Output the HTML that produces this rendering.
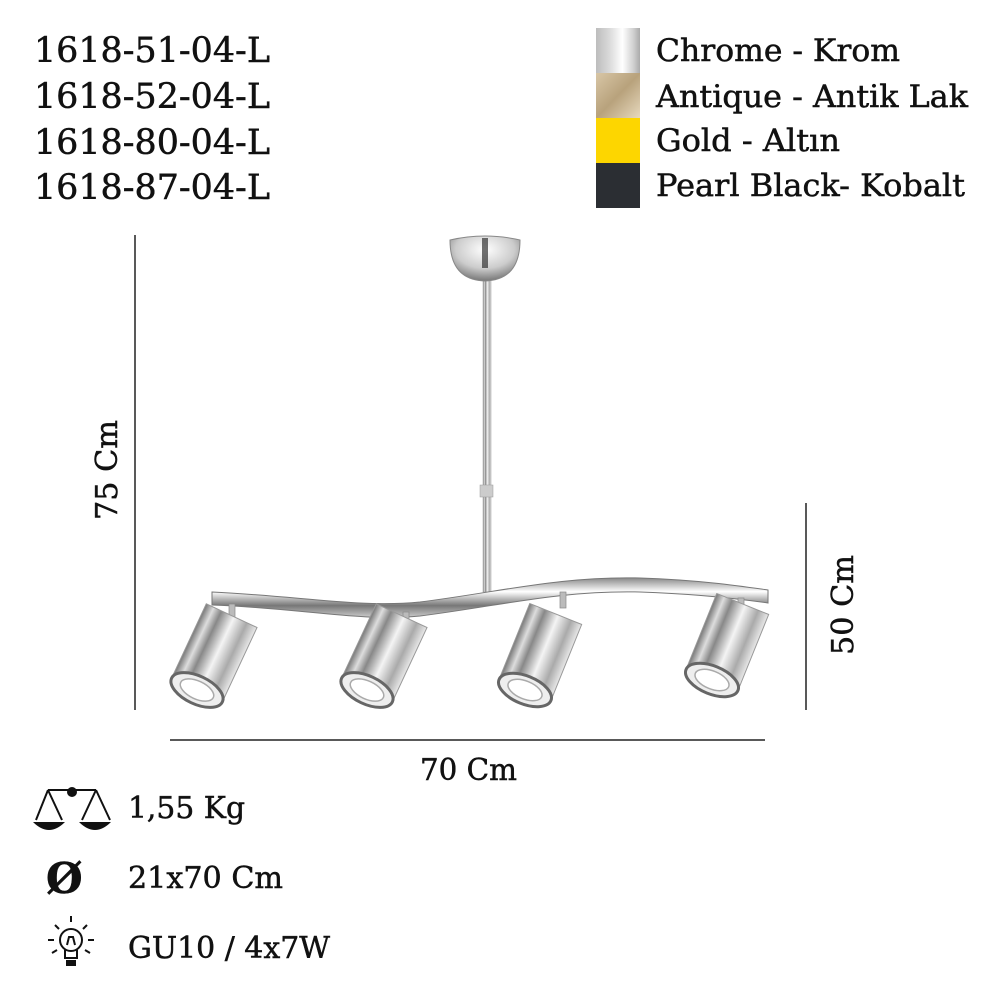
<!DOCTYPE html>
<html><head><meta charset="utf-8"><style>html,body{margin:0;padding:0;background:#fff}svg{display:block}text{font-family:"DejaVu Serif","Liberation Serif",serif;fill:#111;stroke:#111;stroke-width:0.5}</style></head>
<body>
<svg width="1000" height="1000" viewBox="0 0 1000 1000" xmlns="http://www.w3.org/2000/svg">
<defs>
<linearGradient id="chr" x1="0" x2="1" y1="0" y2="0">
<stop offset="0" stop-color="#bdbdbd"/><stop offset=".3" stop-color="#d9d9d9"/><stop offset=".6" stop-color="#ffffff"/><stop offset=".85" stop-color="#d0d0d0"/><stop offset="1" stop-color="#aaa"/></linearGradient>
<linearGradient id="ant" x1="0" x2="1" y1="0" y2="1">
<stop offset="0" stop-color="#d8c6a6"/><stop offset=".5" stop-color="#b8a27c"/><stop offset="1" stop-color="#e7d9be"/></linearGradient>
<linearGradient id="cyl" x1="0" x2="1" y1="0" y2="0">
<stop offset="0" stop-color="#777"/><stop offset=".15" stop-color="#ddd"/><stop offset=".3" stop-color="#888"/><stop offset=".55" stop-color="#f4f4f4"/><stop offset=".8" stop-color="#aaa"/><stop offset="1" stop-color="#e8e8e8"/></linearGradient>
<linearGradient id="bar" x1="0" x2="0" y1="0" y2="1">
<stop offset="0" stop-color="#888"/><stop offset=".35" stop-color="#fff"/><stop offset=".7" stop-color="#777"/><stop offset="1" stop-color="#ccc"/></linearGradient>
<radialGradient id="dome" cx=".5" cy=".3" r=".7"><stop offset="0" stop-color="#fff"/><stop offset=".6" stop-color="#ccc"/><stop offset="1" stop-color="#777"/></radialGradient>
<g id="spot">
<rect x="-28" y="-82" width="56" height="82" fill="url(#cyl)" stroke="#999" stroke-width="1"/>
<ellipse cx="0" cy="0" rx="28" ry="14" fill="#eee" stroke="#666" stroke-width="3"/>
<ellipse cx="0" cy="0" rx="18" ry="9" fill="#fff" stroke="#aaa" stroke-width="1.5"/>
</g>
</defs>

<g font-size="35">
<text x="34" y="62" textLength="236" lengthAdjust="spacingAndGlyphs">1618-51-04-L</text>
<text x="34" y="108" textLength="236" lengthAdjust="spacingAndGlyphs">1618-52-04-L</text>
<text x="34" y="154" textLength="236" lengthAdjust="spacingAndGlyphs">1618-80-04-L</text>
<text x="34" y="199" textLength="236" lengthAdjust="spacingAndGlyphs">1618-87-04-L</text>
</g>

<rect x="596" y="28" width="44" height="45" fill="url(#chr)"/>
<rect x="596" y="73" width="44" height="45" fill="url(#ant)"/>
<rect x="596" y="118" width="44" height="45" fill="#fdd600"/>
<rect x="596" y="163" width="44" height="45" fill="#2b2e33"/>
<g font-size="31">
<text x="656" y="61" textLength="244" lengthAdjust="spacingAndGlyphs">Chrome - Krom</text>
<text x="656" y="107" textLength="312" lengthAdjust="spacingAndGlyphs">Antique - Antik Lak</text>
<text x="656" y="151" textLength="184" lengthAdjust="spacingAndGlyphs">Gold - Altın</text>
<text x="656" y="196" textLength="309" lengthAdjust="spacingAndGlyphs">Pearl Black- Kobalt</text>
</g>

<line x1="135" y1="235" x2="135" y2="710" stroke="#222" stroke-width="1.5"/>
<line x1="806" y1="503" x2="806" y2="710" stroke="#222" stroke-width="1.5"/>
<line x1="170" y1="740" x2="765" y2="740" stroke="#222" stroke-width="1.5"/>
<text font-size="30" transform="translate(117 520) rotate(-90)" textLength="100" lengthAdjust="spacingAndGlyphs">75 Cm</text>
<text font-size="30" transform="translate(853 655) rotate(-90)" textLength="100" lengthAdjust="spacingAndGlyphs">50 Cm</text>
<text font-size="30" x="420" y="780" textLength="97" lengthAdjust="spacingAndGlyphs">70 Cm</text>

<rect x="483" y="270" width="8" height="322" fill="url(#cyl)" stroke="#999" stroke-width=".5"/>
<rect x="480" y="485" width="13" height="12" fill="#ccc" stroke="#999" stroke-width=".5"/>
<path d="M450 240 Q485 232 520 240 Q520 280 485 281 Q450 280 450 240Z" fill="url(#dome)" stroke="#888"/>
<rect x="482" y="238" width="6" height="30" fill="#333" opacity=".7"/>
<path d="M212 592 C300 596 360 608 420 602 C500 592 560 576 640 578 C700 580 740 586 768 590 L768 603 C740 599 700 594 640 592 C560 590 500 606 420 616 C360 622 300 608 212 605Z" fill="url(#bar)" stroke="#777" stroke-width="1"/>
<g fill="#bbb" stroke="#888" stroke-width=".7">
<rect x="229" y="604" width="6" height="14"/>
<rect x="403" y="612" width="6" height="12"/>
<rect x="560" y="592" width="6" height="16"/>
<rect x="738" y="598" width="6" height="16"/>
</g>
<use href="#spot" transform="translate(197 690) rotate(25)"/>
<use href="#spot" transform="translate(367 690) rotate(25)"/>
<use href="#spot" transform="translate(525 690) rotate(22)"/>
<use href="#spot" transform="translate(712 680) rotate(22)"/>

<g stroke="#111" stroke-width="2" fill="none">
<line x1="48" y1="790" x2="96" y2="790"/>
<path d="M48 790 L36 820 M48 790 L62 820 M96 790 L82 820 M96 790 L110 820"/>
</g>
<circle cx="72" cy="792" r="5" fill="#111"/>
<path d="M33 822 L65 822 Q49 838 33 822Z" fill="#111"/>
<path d="M79 822 L111 822 Q95 838 79 822Z" fill="#111"/>
<text x="128" y="818" font-size="30" textLength="117" lengthAdjust="spacingAndGlyphs">1,55 Kg</text>
<text x="46" y="893" font-size="42" font-weight="bold">Ø</text>
<text x="128" y="888" font-size="30" textLength="155" lengthAdjust="spacingAndGlyphs">21x70 Cm</text>
<g stroke="#111" stroke-width="2" fill="none">
<circle cx="71" cy="940" r="11"/>
<path d="M65 950 L65 958 L77 958 L77 950"/>
<line x1="71" y1="916" x2="71" y2="922"/>
<line x1="55" y1="925" x2="59" y2="929"/><line x1="87" y1="925" x2="83" y2="929"/>
<line x1="48" y1="940" x2="54" y2="940"/><line x1="88" y1="940" x2="94" y2="940"/>
<line x1="52" y1="953" x2="57" y2="950"/><line x1="90" y1="953" x2="85" y2="950"/>
<path d="M67 945 L69 937 L73 937 L75 945"/>
</g>
<rect x="66" y="960" width="10" height="6" fill="#111"/>
<text x="128" y="958" font-size="30" textLength="202" lengthAdjust="spacingAndGlyphs">GU10 / 4x7W</text>
</svg>
</body></html>
